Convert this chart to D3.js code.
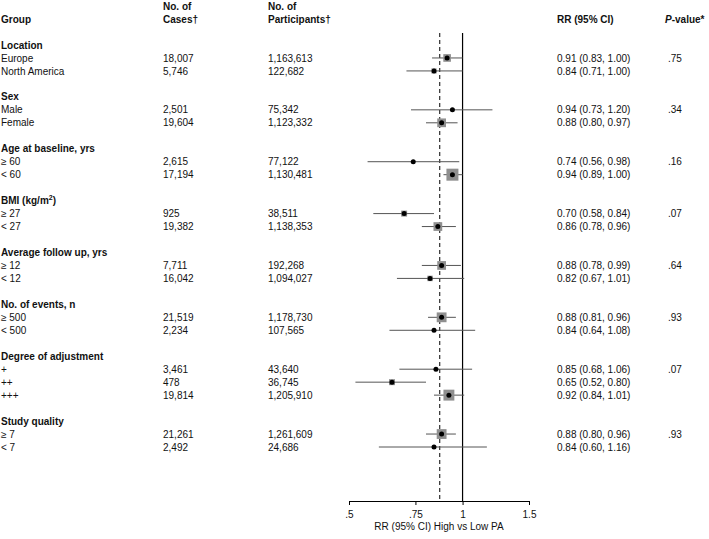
<!DOCTYPE html>
<html><head><meta charset="utf-8">
<script src="https://cdn.jsdelivr.net/npm/d3@7"></script>
<style>body{margin:0;background:#fff}text{font-family:"Liberation Sans",Arial,sans-serif;font-size:10px;fill:#111}</style>
</head><body>
<script>
const groups = ["Location","Sex","Age at baseline, yrs","BMI (kg/m²)","Average follow up, yrs","No. of events, n","Degree of adjustment","Study quality"];
const groupPValues = [".75",".34",".16",".07",".64",".93",".07",".93"];
const subgroups = ["Europe","North America","Male","Female","≥ 60","< 60","≥ 27","< 27","≥ 12","< 12","≥ 500","< 500","+","++","+++","≥ 7","< 7"];
const subgroupGroup = [0,0,1,1,2,2,3,3,4,4,5,5,6,6,6,7,7];
const cases = ["18,007","5,746","2,501","19,604","2,615","17,194","925","19,382","7,711","16,042","21,519","2,234","3,461","478","19,814","21,261","2,492"];
const participants = ["1,163,613","122,682","75,342","1,123,332","77,122","1,130,481","38,511","1,138,353","192,268","1,094,027","1,178,730","107,565","43,640","36,745","1,205,910","1,261,609","24,686"];
const rr = [0.91,0.84,0.94,0.88,0.74,0.94,0.70,0.86,0.88,0.82,0.88,0.84,0.85,0.65,0.92,0.88,0.84];
const lo = [0.83,0.71,0.73,0.80,0.56,0.89,0.58,0.78,0.78,0.67,0.81,0.64,0.68,0.52,0.84,0.80,0.60];
const hi = [1.00,1.00,1.20,0.97,0.98,1.00,0.84,0.96,0.99,1.01,0.96,1.08,1.06,0.80,1.01,0.96,1.16];
const weights = [49,22,6,64,6,121,30,64,64,25,81,8,8,30,100,81,8];
const overallRR = 0.87;
const xTicks = [0.5,0.75,1,1.5];
const xTickLabels = [".5",".75","1","1.5"];

const W = 709, H = 539;
const svg = d3.select("body").append("svg").attr("width",W).attr("height",H);

const rows = [];
let idx = 0;
groups.forEach((g,gi)=>{
  rows.push({type:"header", gi, idx: idx++});
  subgroups.forEach((s,si)=>{ if(subgroupGroup[si]===gi) rows.push({type:"item", si, gi, idx: idx++}); });
  idx++;
});
const y = d3.scaleLinear().domain([0,31]).range([45,447]);
const x = d3.scaleLog().domain([0.5,1.5]).range([349,529]);
const size = d3.scaleSqrt().domain([0,121]).range([0,12]);

const colGroup = 1, colCases = 163, colPart = 268, colRR = 557, colP = 668;
const base = 3.6;

const hdr = svg.append("g");
hdr.append("text").attr("x",colGroup).attr("y",19+base).style("font-weight","bold").text("Group");
hdr.append("text").attr("x",colCases).attr("y",6+base).style("font-weight","bold").text("No. of");
hdr.append("text").attr("x",colCases).attr("y",19+base).style("font-weight","bold").text("Cases†");
hdr.append("text").attr("x",colPart).attr("y",6+base).style("font-weight","bold").text("No. of");
hdr.append("text").attr("x",colPart).attr("y",19+base).style("font-weight","bold").text("Participants†");
hdr.append("text").attr("x",colRR).attr("y",19+base).style("font-weight","bold").text("RR (95% CI)");
const pt = hdr.append("text").attr("x",665).attr("y",19+base).style("font-weight","bold");
pt.append("tspan").style("font-style","italic").text("P");
pt.append("tspan").text("-value*");

svg.append("line").attr("x1",x(1)).attr("x2",x(1)).attr("y1",33).attr("y2",501).attr("stroke","#000").attr("stroke-width",1.2);
svg.append("line").attr("x1",x(overallRR)).attr("x2",x(overallRR)).attr("y1",33).attr("y2",501).attr("stroke","#000").attr("stroke-width",1).attr("stroke-dasharray","4,3");

rows.forEach(r=>{
  const yy = y(r.idx);
  if(r.type==="header"){
    const t = svg.append("text").attr("x",colGroup).attr("y",yy+base).style("font-weight","bold");
    if(groups[r.gi].includes("²")){
      t.append("tspan").text("BMI (kg/m");
      t.append("tspan").attr("dy",-4).style("font-size","7px").text("2");
      t.append("tspan").attr("dy",4).text(")");
    } else t.text(groups[r.gi]);
  } else {
    const i = r.si;
    svg.append("text").attr("x",colGroup).attr("y",yy+base).text(subgroups[i]);
    svg.append("text").attr("x",colCases).attr("y",yy+base).text(cases[i]);
    svg.append("text").attr("x",colPart).attr("y",yy+base).text(participants[i]);
    svg.append("text").attr("x",colRR).attr("y",yy+base).text(`${rr[i].toFixed(2)} (${lo[i].toFixed(2)}, ${hi[i].toFixed(2)})`);
    const first = subgroupGroup.indexOf(r.gi);
    if(first===i) svg.append("text").attr("x",colP).attr("y",yy+base).text(groupPValues[r.gi]);
    svg.append("line").attr("x1",x(lo[i])).attr("x2",x(hi[i])).attr("y1",yy).attr("y2",yy).attr("stroke","#555").attr("stroke-width",1);
    const s = size(weights[i]);
    svg.append("rect").attr("x",x(rr[i])-s/2).attr("y",yy-s/2).attr("width",s).attr("height",s).attr("fill","#8f8f8f");
    svg.append("circle").attr("cx",x(rr[i])).attr("cy",yy).attr("r",2.5).attr("fill","#000");
  }
});

const axis = d3.axisBottom(x).tickValues(xTicks).tickFormat((d,i)=>xTickLabels[i]).tickSize(4).tickSizeOuter(0);
const ag = svg.append("g").attr("transform","translate(0,501)").call(axis);
ag.select(".domain").attr("stroke","#000");
ag.selectAll(".tick line").attr("stroke","#000");
ag.selectAll(".tick text").attr("dy",0).attr("y",17).style("font-family","'Liberation Sans',Arial,sans-serif").style("font-size","10px").attr("fill","#111");
svg.append("text").attr("x",(x(0.5)+x(1.5))/2).attr("y",530).attr("text-anchor","middle").text("RR (95% CI) High vs Low PA");
</script>
</body></html>
